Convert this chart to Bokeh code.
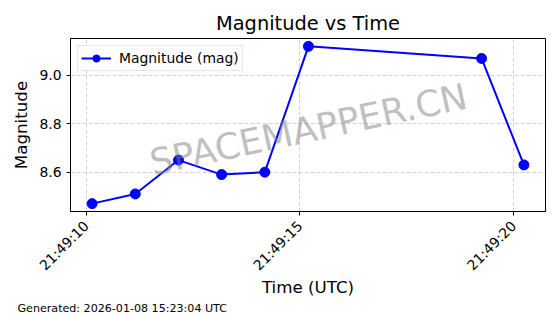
import math
import pandas as pd
from bokeh.plotting import figure
from bokeh.models import (Range1d, FixedTicker, DatetimeTickFormatter, Label, Legend,
                          LegendItem, NumeralTickFormatter, Title)
from bokeh.embed import file_html
from bokeh.resources import INLINE

# ---- data ----
times = [
    "2026-01-07 21:49:10.14",
    "2026-01-07 21:49:11.15",
    "2026-01-07 21:49:12.16",
    "2026-01-07 21:49:13.17",
    "2026-01-07 21:49:14.18",
    "2026-01-07 21:49:15.20",
    "2026-01-07 21:49:19.25",
    "2026-01-07 21:49:20.24",
]
magnitudes = [8.47, 8.51, 8.65, 8.59, 8.60, 9.12, 9.07, 8.63]
x_tick_times = ["2026-01-07 21:49:10", "2026-01-07 21:49:15", "2026-01-07 21:49:20"]
y_ticks = [8.6, 8.8, 9.0]
title_text = "Magnitude vs Time"
legend_text = "Magnitude (mag)"
footer_text = "Generated: 2026-01-08 15:23:04 UTC"
watermark_text = "SPACEMAPPER.CN"

t = pd.to_datetime(times)
span = t.max() - t.min()
x_start = t.min() - span * 0.05
x_end = t.max() + span * 0.05
m_lo, m_hi = min(magnitudes), max(magnitudes)
m_pad = (m_hi - m_lo) * 0.05

tick_ms = [float(v.value // 10**6) for v in pd.to_datetime(x_tick_times)]

FONT = "DejaVu Sans"

p = figure(
    width=560, height=314,
    x_axis_type="datetime",
    output_backend="svg",
    toolbar_location=None,
    x_range=Range1d(x_start, x_end),
    y_range=Range1d(m_lo - m_pad, m_hi + m_pad),
    min_border_left=70, min_border_right=15,
    min_border_top=38, min_border_bottom=102,
)
p.background_fill_color = "white"
p.border_fill_color = "white"
p.outline_line_color = "black"
p.outline_line_width = 1

p.title.text = title_text
p.title.align = "center"
p.title.text_font = FONT
p.title.text_font_size = "19.4px"
p.title.text_font_style = "normal"
p.title.text_color = "black"
p.title.standoff = 7

for ax in (p.xaxis[0], p.yaxis[0]):
    ax.axis_line_color = "black"
    ax.major_tick_line_color = "black"
    ax.major_tick_out = 4
    ax.major_tick_in = 0
    ax.minor_tick_line_color = None
    ax.major_label_text_font = FONT
    ax.major_label_text_font_size = "13.9px"
    ax.major_label_text_color = "black"
    ax.axis_label_text_font = FONT
    ax.axis_label_text_font_size = "16.7px"
    ax.axis_label_text_font_style = "normal"
    ax.axis_label_text_color = "black"

p.xaxis.ticker = FixedTicker(ticks=tick_ms)
fmt = "%H:%M:%S"
p.xaxis.formatter = DatetimeTickFormatter(
    microseconds=fmt, milliseconds=fmt, seconds=fmt, minsec=fmt,
    minutes=fmt, hourmin=fmt, hours=fmt, days=fmt, months=fmt, years=fmt,
)
p.xaxis.major_label_orientation = math.pi / 4
p.xaxis.major_label_standoff = 8
p.xaxis.axis_label_standoff = -5
p.xaxis.axis_label_text_line_height = 1.0
p.xaxis.axis_label = "Time (UTC)"
p.yaxis.ticker = FixedTicker(ticks=y_ticks)
p.yaxis.formatter = NumeralTickFormatter(format="0.0")
p.yaxis.axis_label = "Magnitude"

for g in (p.xgrid[0], p.ygrid[0]):
    g.grid_line_color = "#b0b0b0"
    g.grid_line_alpha = 0.7
    g.grid_line_dash = "4 2"
    g.grid_line_width = 0.8
p.xgrid.ticker = FixedTicker(ticks=tick_ms)
p.ygrid.ticker = FixedTicker(ticks=y_ticks)

wm = Label(
    x=pd.Timestamp("2026-01-07 21:49:15.20"), y=8.777,
    text=watermark_text, text_align="center", text_baseline="alphabetic",
    angle=12, angle_units="deg",
    text_font=FONT, text_font_size="36px",
    text_color="gray", text_alpha=0.5,
)
p.add_layout(wm)

ln = p.line(t, magnitudes, line_color="blue", line_width=2)
sc = p.scatter(t, magnitudes, size=10, fill_color="blue", line_color="blue")

legend = Legend(items=[LegendItem(label=legend_text, renderers=[ln, sc])],
                location="top_left")
legend.label_text_font = FONT
legend.label_text_font_size = "13.9px"
legend.label_text_color = "black"
legend.border_line_color = "#cccccc"
legend.background_fill_alpha = 0.8
legend.margin = 7
legend.padding = 3
legend.glyph_width = 30
legend.glyph_height = 18
legend.label_height = 18
legend.label_standoff = 8
p.add_layout(legend)

footer = Title(
    text=footer_text, align="left", text_font=FONT, text_font_size="11.1px",
    text_font_style="normal", text_color="black", standoff=0, offset=-53,
    text_line_height=1.0,
)
p.add_layout(footer, "below")

open("out.html", "w").write(file_html(p, INLINE))
